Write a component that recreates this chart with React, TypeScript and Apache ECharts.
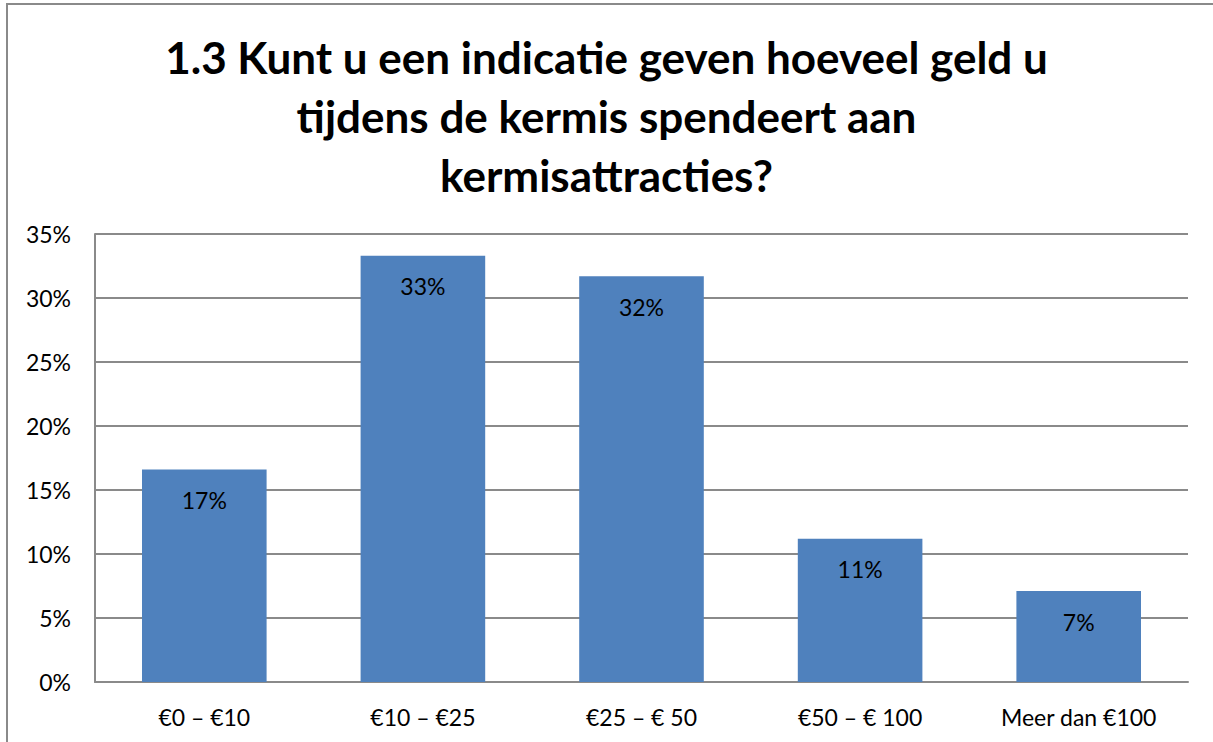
import React, { useEffect, useRef } from "react";
import * as echarts from "echarts";

const categories = ["€0 – €10", "€10 – €25", "€25 – € 50", "€50 – € 100", "Meer dan €100"];
const values = [16.6, 33.3, 31.7, 11.2, 7.1];
const titleLines = [
  "1.3 Kunt u een indicatie geven hoeveel geld u",
  "tijdens de kermis spendeert aan",
  "kermisattracties?",
];

const FONT = "Lato, 'Open Sans', sans-serif";

export default function App() {
  const ref = useRef<HTMLDivElement>(null);
  useEffect(() => {
    if (!ref.current) return;
    const chart = echarts.init(ref.current, undefined, { renderer: "svg" });
    chart.setOption({
      animation: false,
      backgroundColor: "#ffffff",
      title: {
        text: titleLines.join("\n"),
        left: "center",
        top: 22,
        textStyle: {
          fontFamily: FONT,
          fontWeight: "bold",
          fontSize: 44,
          lineHeight: 59,
          color: "#000000",
        },
      },
      graphic: [
        {
          type: "rect",
          shape: { x: 7, y: 4, width: 1220, height: 760 },
          style: { fill: "none", stroke: "#8a8a8a", lineWidth: 2 },
          silent: true,
          z: 100,
        },
      ],
      grid: { left: 95, right: 25, top: 234, bottom: 60, containLabel: false },
      xAxis: {
        type: "category",
        data: categories,
        axisLine: { show: true, lineStyle: { color: "#8a8a8a", width: 2 } },
        axisTick: { show: false },
        axisLabel: {
          fontFamily: FONT,
          fontSize: 23,
          color: "#000000",
          margin: 23,
          interval: 0,
        },
      },
      yAxis: {
        type: "value",
        min: 0,
        max: 35,
        interval: 5,
        axisLine: { show: true, lineStyle: { color: "#8a8a8a", width: 2 } },
        axisTick: { show: false },
        splitLine: { show: true, lineStyle: { color: "#8a8a8a", width: 2 } },
        axisLabel: {
          fontFamily: FONT,
          fontSize: 23,
          color: "#000000",
          margin: 24,
          formatter: (v: number) => v + "%",
        },
      },
      series: [
        {
          type: "bar",
          data: values,
          barWidth: "57%",
          itemStyle: { color: "#4F81BD" },
          label: {
            show: true,
            position: "insideTop",
            distance: 19,
            fontFamily: FONT,
            fontSize: 23,
            color: "#000000",
            formatter: (p: any) => Math.round(p.value) + "%",
          },
        },
      ],
    });
    return () => chart.dispose();
  }, []);
  return (
    <div
      ref={ref}
      style={{ position: "fixed", left: 0, top: 0, width: 1213, height: 742 }}
    />
  );
}
